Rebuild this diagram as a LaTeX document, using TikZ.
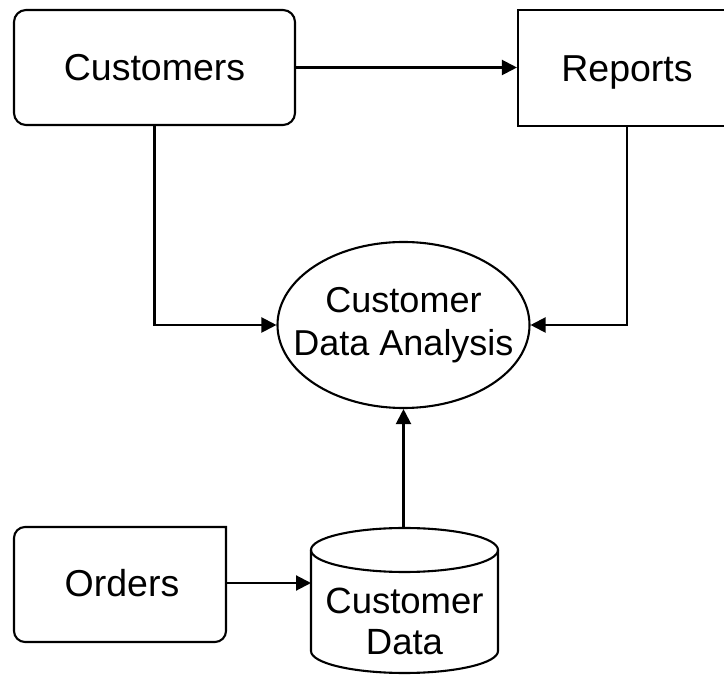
\documentclass[tikz,border=0pt]{standalone}
\usepackage{fontspec}
\setmainfont{Liberation Sans}
\usetikzlibrary{arrows.meta,shapes.geometric}

\tikzset{
  line/.style={line width=2.1pt, draw=black},
  flow/.style={line, -{Triangle[length=15pt,width=15pt]}},
  label/.style={font=\fontsize{37.5}{42}\selectfont, align=center, inner sep=0pt},
  oneline/.style={label, text height=27pt, text depth=0pt},
  entity/.style={line, oneline, minimum width=281pt, minimum height=115pt},
}

\begin{document}
\begin{tikzpicture}[x=1pt,y=1pt]
  \useasboundingbox (0,0) rectangle (724,675);

  % external entities
  \node[entity, rounded corners=12pt] (cust) at (154.5,607.5) {Customers};
  \node[entity, minimum width=218pt, minimum height=116pt] (rep) at (627,607) {Reports};

  % process
  \node[line, ellipse, minimum width=252pt, minimum height=166pt, inner sep=0pt] (ana) at (403.5,350) {};
  \node[label, font=\fontsize{36}{43}\selectfont] (anatext) at (ana.center) {Customer\\Data Analysis};

  % Orders box: rounded except the top-right corner
  \draw[line] (226,148) -- (226,44) arc[start angle=0,end angle=-90,radius=11]
    -- (25,33) arc[start angle=270,end angle=180,radius=11]
    -- (14,137) arc[start angle=180,end angle=90,radius=11] -- cycle;
  \node[oneline] (ord) at (122,92) {Orders};
  \coordinate (ordE) at (226,92);

  % data store drawn as a cylinder
  \draw[line] (404.5,125) ellipse[x radius=93.5, y radius=22];
  \draw[line] (311,125) -- (311,24) arc[start angle=180,end angle=360,x radius=93.5,y radius=22]
    -- (498,125);
  \node[label, font=\fontsize{36.5}{41}\selectfont] (db) at (404.5,54) {Customer\\Data};
  \coordinate (dbW) at (311,92);
  \coordinate (dbN) at (403.5,147);

  % flows
  \draw[flow] (cust.east) -- (cust.east -| rep.west);
  \draw[flow] (cust.south) |- (ana.west);
  \draw[flow] (rep.south) |- (ana.east);
  \draw[flow] (dbN) -- (ana.south);
  \draw[flow] (ordE) -- (dbW);
\end{tikzpicture}
\end{document}
